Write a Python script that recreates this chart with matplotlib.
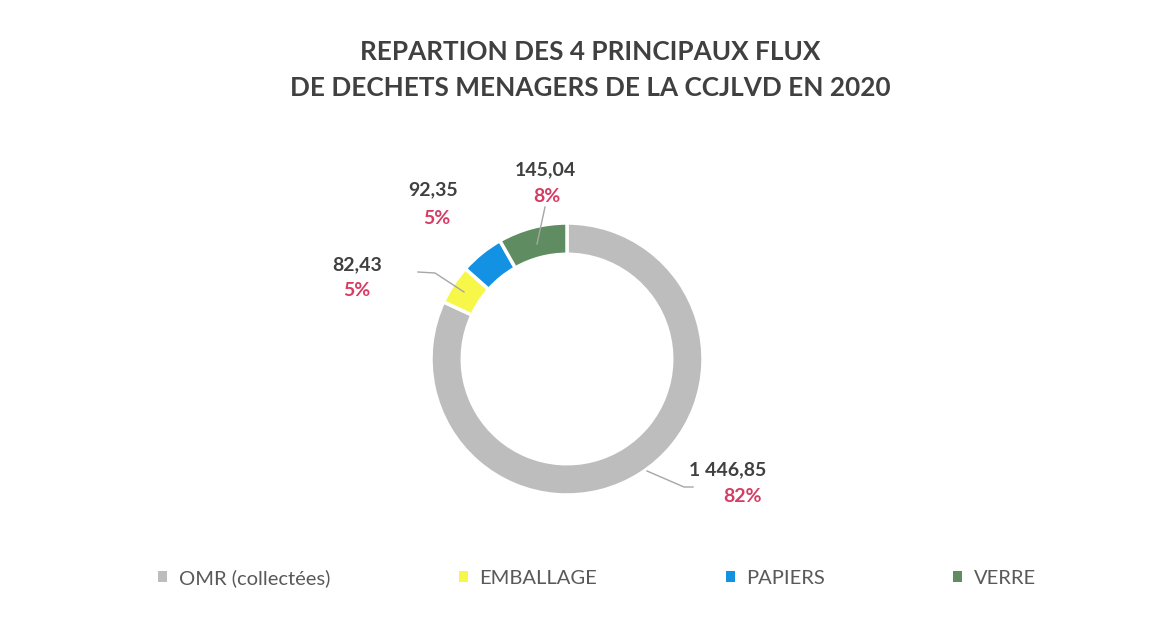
import matplotlib
matplotlib.use('Agg')
import matplotlib.pyplot as plt
from matplotlib.patches import Patch

plt.rcParams['font.family'] = ['Lato', 'DejaVu Sans']

# data
categories = ['OMR (collectées)', 'EMBALLAGE', 'PAPIERS', 'VERRE']
tonnages = [1446.85, 82.43, 92.35, 145.04]
value_labels = ['1 446,85', '82,43', '92,35', '145,04']
colors = ['#bdbdbd', '#f7f74a', '#1391e3', '#5f8d61']

fig = plt.figure(figsize=(11.59, 6.18), dpi=100)
fig.patch.set_facecolor('white')

W, H = 1159, 618
cx, cy, r = 567, 359, 136
ax = fig.add_axes([(cx - r) / W, (H - cy - r) / H, 2 * r / W, 2 * r / H])
ax.axis('off')

wedges, _ = ax.pie(tonnages, colors=colors, startangle=90, counterclock=False,
                   radius=1, wedgeprops=dict(width=0.23, edgecolor='white', linewidth=2.5))
ax.set_xlim(-1, 1)
ax.set_ylim(-1, 1)

def px(x, y):
    return ((x - cx) / r, (cy - y) / r)

total = sum(tonnages)
pcts = ['%d%%' % round(v / total * 100) for v in tonnages]

# label positions (pixel coords of value text centre) and leader lines
label_pos = [(728, 470), (357, 265), (433, 190), (545, 170)]
pct_off = [(14, 27), (0, 25), (4, 28), (2, 27)]
leaders = [
    [(647, 471), (684, 487), (693, 487)],
    [(464, 292), (435, 273), (418, 272)],
    None,
    [(537, 244), (545, 207)],
]

for i in range(len(tonnages)):
    x, y = label_pos[i]
    ax.text(*px(x, y), value_labels[i], ha='center', va='center', fontsize=14,
            fontweight='bold', color='#404040', clip_on=False)
    ax.text(*px(x + pct_off[i][0], y + pct_off[i][1]), pcts[i], ha='center', va='center',
            fontsize=14, fontweight='bold', color='#d63c64', clip_on=False)
    if leaders[i]:
        pts = [px(a, b) for a, b in leaders[i]]
        ax.plot([p[0] for p in pts], [p[1] for p in pts], color='#a6a6a6', lw=1,
                clip_on=False)

tx = 590 / W
fig.text(tx, 1 - 52 / H, 'REPARTION DES 4 PRINCIPAUX FLUX', ha='center', va='center',
         fontsize=18.8, fontweight='bold', color='#404040')
fig.text(tx, 1 - 88 / H, 'DE DECHETS MENAGERS DE LA CCJLVD EN 2020', ha='center',
         va='center', fontsize=18.8, fontweight='bold', color='#404040')

handles = [Patch(facecolor=c, edgecolor='none') for c in colors]
leg = fig.legend(handles, categories, loc='center', bbox_to_anchor=(597 / W, 1 - 578 / H),
                 ncol=4, frameon=False, fontsize=14.5, handlelength=0.45, handleheight=0.45,
                 handletextpad=0.55, columnspacing=6.4)
for t in leg.get_texts():
    t.set_color('#595959')

fig.savefig('out.png', dpi=100, facecolor='white')
